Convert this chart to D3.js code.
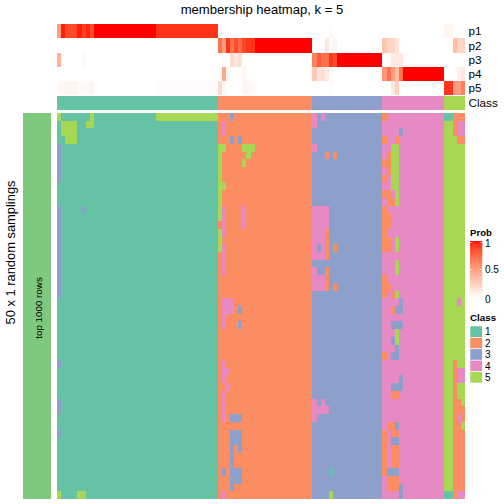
<!DOCTYPE html>
<html><head><meta charset="utf-8">
<script src="https://cdnjs.cloudflare.com/ajax/libs/d3/7.8.5/d3.min.js"></script>
<style>html,body{margin:0;padding:0;background:#fff}svg{display:block}text{font-family:"Liberation Sans",Arial,sans-serif;fill:#000}</style>
</head><body><svg id="c" width="504" height="504"></svg>
<script>
const classLabels=[1,2,3,4,5];
const classColors=["#66C2A5","#FC8D62","#8DA0CB","#E78AC3","#A6D854"];
const classSizes=[39,23,17,15,5];
const probRows=["p1","p2","p3","p4","p5"];
const p1=[.5,.97,.87,.87,.87,.97,.9,.95,.87,1,1,1,1,1,1,1,1,1,1,1,1,1,1,1,.93,.93,.93,.93,.93,.93,.93,.93,.93,.93,.93,.93,.93,.93,.93,
0,0,0,0,0,0,0,0,0,0,0,0,0,0,0,0,0,0,0,0,0,0,0,
0,0,0,0,.03,0,0,0,0,0,0,0,0,0,0,0,0,
0,0,0,0,0,0,0,0,0,0,0,0,0,0,0,
.05,.05,0,0,0];
const p2=[0,0,0,0,0,0,0,0,0,0,0,0,0,0,0,0,0,0,0,0,0,0,0,0,0,0,0,0,0,0,0,0,0,0,0,0,0,0,0,
.72,.5,.93,.72,.85,.75,.88,.92,.93,1,1,1,1,1,1,1,1,1,1,1,1,1,1,
0,0,0,.12,0,.05,0,0,0,0,0,0,0,0,0,0,0,
.3,.22,.22,.15,0,0,0,0,0,0,0,0,0,0,0,
0,0,.35,.22,.22];
const p3=[.4,0,0,0,0,0,.03,0,0,0,0,0,0,0,0,0,0,0,0,0,0,0,0,0,0,0,0,0,0,0,0,0,0,0,0,0,0,0,0,
0,.02,0,.2,.12,.17,0,0,0,0,0,0,0,0,0,0,0,0,0,0,0,0,0,
.65,.8,.72,.72,.92,.85,1,1,1,1,1,1,1,1,1,1,1,
0,.03,.12,.12,.12,0,0,0,0,0,0,0,0,0,0,
0,0,0,0,0];
const p4=[0,0,0,0,0,0,0,0,0,0,0,0,0,0,0,0,0,0,0,0,0,0,0,0,0,0,0,0,0,0,0,0,0,0,0,0,0,0,0,
0,.45,.05,0,0,0,.05,0,0,0,0,0,0,0,0,0,0,0,0,0,0,0,0,
.3,.15,.17,.1,.02,0,0,0,0,0,0,0,0,0,0,0,0,
.55,.72,.5,.35,.72,1,1,1,1,1,1,1,1,1,1,
0,0,0,.08,.12];
const p5=[.04,.04,.06,.06,.06,.03,.03,.03,.06,0,0,0,0,0,0,0,0,0,0,0,0,0,0,0,.02,.02,.02,.02,.02,.02,.02,.02,.02,.02,.02,.02,.02,.02,.02,
.2,.05,0,0,0,0,.05,.05,.03,0,0,0,0,0,0,0,0,0,0,0,0,0,0,
0,0,0,0,.02,0,0,0,0,0,0,0,0,0,0,0,0,
0,0,.12,.25,0,0,0,0,0,0,0,0,0,0,0,
.93,.93,.5,.5,.65];
const probValues=[p1,p2,p3,p4,p5];
const probTicks=[0,0.5,1];
const sampleCount=50;
// sampling runs that disagree with the consensus class: [first run, last run, first column, last column, class]
const deviations=[
[0,0,0,0,5],[0,1,8,8,5],[1,1,7,7,5],[0,0,24,38,5],[1,2,1,4,5],[3,3,2,4,5],
[4,8,0,0,3],[12,23,0,0,3],[12,12,6,6,3],[32,32,0,0,3],[37,38,0,0,3],[41,41,0,0,3],[49,49,0,0,5],[49,49,5,6,5],
[1,2,40,40,4],[0,0,42,42,3],[3,3,42,42,3],[3,3,44,44,3],[4,4,39,40,5],[4,4,45,47,5],[5,5,46,46,5],[6,6,45,45,5],
[4,13,39,39,5],[9,9,40,40,5],[15,17,39,39,5],[12,15,40,40,4],[12,14,45,45,4],
[17,20,40,40,4],[24,25,40,42,4],[26,27,40,40,4],[25,25,44,44,3],[27,27,44,44,3],
[32,34,40,40,4],[33,33,41,41,4],[35,35,41,41,4],[36,39,40,40,4],[39,39,42,44,3],[41,42,42,44,3],
[43,43,42,42,3],[43,43,44,44,3],[44,45,42,42,3],[46,47,42,44,3],[46,46,40,40,3],[48,48,42,42,3],[49,49,40,40,4],
[0,1,62,62,4],[0,0,64,64,4],[4,4,62,62,4],[5,5,65,65,2],[5,5,67,67,2],[12,14,62,65,4],
[15,18,62,64,4],[15,18,65,65,2],[17,17,63,63,3],[17,17,67,67,2],
[20,22,62,62,4],[21,22,63,64,4],[20,22,65,65,2],[22,22,67,67,2],
[37,39,62,62,4],[37,37,64,64,4],[38,38,63,65,4],[46,46,66,66,1],[49,49,66,66,5],
[0,0,79,79,2],[2,2,83,83,3],[3,3,79,79,2],[3,3,82,82,2],[4,9,81,82,5],[5,7,80,80,2],[6,6,79,79,2],[8,8,79,79,2],
[10,10,79,80,2],[10,11,82,82,5],[11,11,80,81,2],[12,12,79,79,2],[13,14,79,80,2],[15,15,79,79,2],
[16,17,79,80,2],[16,17,82,82,5],[19,20,82,82,5],[21,21,79,79,2],[22,22,79,80,2],[23,23,79,79,2],[23,23,81,81,2],[23,23,82,82,5],
[24,24,83,83,3],[25,25,81,81,2],[25,25,82,83,3],[27,27,81,83,3],[28,28,82,82,5],[29,29,81,81,3],[29,29,82,82,5],[30,30,82,82,3],[31,31,79,79,2],[31,31,81,82,3],
[34,34,83,83,3],[35,35,81,83,3],[36,36,81,82,2],[40,40,80,81,2],[40,40,82,82,3],
[41,41,79,79,2],[41,41,81,82,2],[42,42,79,79,2],[42,42,81,82,3],[43,45,79,79,2],[43,45,81,82,2],[46,46,79,79,2],[46,46,80,82,3],
[47,48,80,82,2],[48,49,83,83,3],
[0,0,94,95,1],[0,0,96,98,2],[1,2,96,96,2],[1,2,97,98,4],[3,3,97,98,2],[24,24,97,97,4],
[32,49,96,96,2],[33,34,97,98,4],[37,37,97,97,2],[38,38,97,98,2],[39,39,97,97,4],[39,39,98,98,2],[40,40,97,97,2],[41,48,97,98,2],[49,49,94,95,1],[49,49,97,98,4]
];

const columnClass=classSizes.flatMap((n,i)=>d3.range(n).map(()=>classLabels[i]));
const columns=d3.range(columnClass.length);
const runs=d3.range(sampleCount);
const matrix=runs.map(()=>columnClass.slice());
deviations.forEach(([r0,r1,c0,c1,k])=>{for(let r=r0;r<=r1;r++)for(let c=c0;c<=c1;c++)matrix[r][c]=k;});

const svg=d3.select("#c");
const x=d3.scaleBand().domain(columns).range([56.8,464.9]);
const yMain=d3.scaleBand().domain(runs).range([113,499]);
const yProb=d3.scaleBand().domain(probRows).range([24,95.3]);
const classColor=d3.scaleOrdinal().domain(classLabels).range(classColors);
const probColor=d3.scaleLinear().domain([0,1]).range(["#ffffff","#ff0000"]).interpolate(d3.interpolateLab);

const cell=(g,data,xf,yf,wf,hf,fill)=>g.selectAll("rect").data(data).join("rect")
  .attr("x",xf).attr("y",yf).attr("width",wf).attr("height",hf).attr("fill",fill).attr("shape-rendering","crispEdges");

// probability annotation
probRows.forEach((name,i)=>{
  const g=svg.append("g");
  cell(g,probValues[i],(d,c)=>x(c),yProb(name),x.bandwidth(),yProb.bandwidth(),d=>probColor(d));
  svg.append("text").text(name).attr("x",468.5).attr("y",yProb(name)+yProb.bandwidth()/2).attr("dy","0.36em").attr("font-size",11.7);
});
// class annotation
cell(svg.append("g"),columnClass,(d,c)=>x(c),96,x.bandwidth(),14,d=>classColor(d));
svg.append("text").text("Class").attr("x",468.5).attr("y",103).attr("dy","0.36em").attr("font-size",11.7);

// main matrix
matrix.forEach((row,r)=>cell(svg.append("g"),row,(d,c)=>x(c),yMain(r),x.bandwidth(),yMain.bandwidth(),d=>classColor(d)));

// left annotation
svg.append("rect").attr("x",23).attr("y",113).attr("width",28).attr("height",386).attr("fill","#7FC97F");
svg.append("text").text("top 1000 rows").attr("transform","translate(38,308) rotate(-90)").attr("text-anchor","middle").attr("dy","0.36em").attr("font-size",9.8);
svg.append("text").text("50 x 1 random samplings").attr("transform","translate(10,252.5) rotate(-90)").attr("text-anchor","middle").attr("dy","0.36em").attr("font-size",12.9);
svg.append("text").text("membership heatmap, k = 5").attr("x",262).attr("y",9).attr("text-anchor","middle").attr("dy","0.36em").attr("font-size",13.1);

// probability legend
const defs=svg.append("defs");
const grad=defs.append("linearGradient").attr("id","pg").attr("x1",0).attr("x2",0).attr("y1",1).attr("y2",0);
d3.range(0,1.001,0.05).forEach(t=>grad.append("stop").attr("offset",t).attr("stop-color",probColor(t)));
const legY=d3.scaleLinear().domain([0,1]).range([298,241]);
svg.append("text").text("Prob").attr("x",470).attr("y",232.5).attr("dy","0.36em").attr("font-size",9.6).attr("font-weight","bold");
svg.append("rect").attr("x",470).attr("y",241).attr("width",12.3).attr("height",57).attr("fill","url(#pg)");
probTicks.forEach(t=>{
  const yy=legY(t);
  const ty=t===1?242.5:t===0?298:yy;
  svg.append("line").attr("x1",470).attr("x2",472.5).attr("y1",ty).attr("y2",ty).attr("stroke","#fff").attr("stroke-width",.6);
  svg.append("line").attr("x1",479.8).attr("x2",482.3).attr("y1",ty).attr("y2",ty).attr("stroke","#fff").attr("stroke-width",.6);
  svg.append("text").text(t).attr("x",485).attr("y",t===1?243.5:t===0?299.5:yy).attr("dy","0.36em").attr("font-size",10);
});
// class legend
svg.append("text").text("Class").attr("x",470).attr("y",317).attr("dy","0.36em").attr("font-size",9.8).attr("font-weight","bold");
const legC=d3.scaleBand().domain(classLabels).range([326,383]);
classLabels.forEach(k=>{
  svg.append("rect").attr("x",470).attr("y",legC(k)).attr("width",12.3).attr("height",legC.bandwidth()).attr("fill",classColor(k)).attr("stroke","#fff").attr("stroke-width",.6);
  svg.append("text").text(k).attr("x",485).attr("y",legC(k)+legC.bandwidth()/2).attr("dy","0.36em").attr("font-size",10);
});
</script></body></html>
